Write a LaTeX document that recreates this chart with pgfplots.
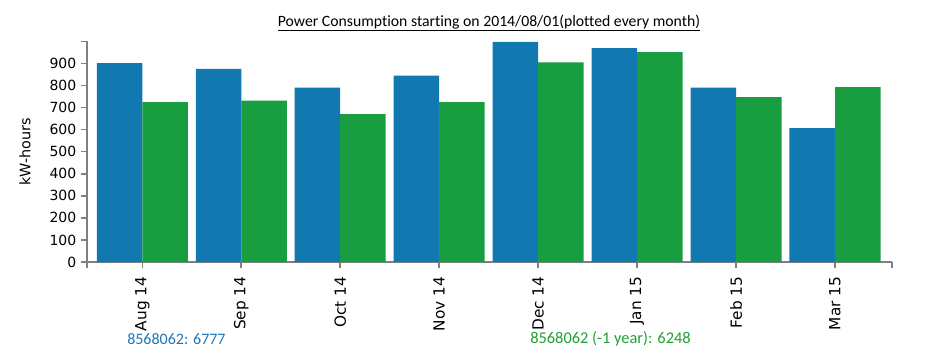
\documentclass[border=0pt]{standalone}
\usepackage{pgfplots}
\pgfplotsset{compat=1.18}
\usepackage{fontspec}
\setmainfont{DejaVu Sans}
\newfontfamily\titlefont[Ligatures={NoCommon}]{Carlito}
\definecolor{cblue}{RGB}{18,120,176}
\definecolor{cgreen}{RGB}{24,158,64}
\definecolor{lblue}{RGB}{31,119,180}
\definecolor{lgreen}{RGB}{34,160,52}
\definecolor{axgray}{RGB}{128,128,128}
\begin{document}
\begin{tikzpicture}[x=1pt,y=1pt]
\useasboundingbox (0,0) rectangle (710.25,270.75);
\begin{axis}[
  at={(65.25pt,74.25pt)}, anchor=south west,
  scale only axis, width=603.75pt, height=165.45pt,
  xmin=-0.559, xmax=7.576, ymin=0, ymax=1000,
  axis lines*=left,
  axis line style={axgray, line width=1.5pt, -},
  ytick={0,100,...,900},
  xtick={0,...,7},
  xticklabels={Aug 14,Sep 14,Oct 14,Nov 14,Dec 14,Jan 15,Feb 15,Mar 15},
  extra x ticks={-0.559,7.576}, extra x tick labels={},
  extra y ticks={1000}, extra y tick labels={},
  x tick label style={rotate=90, anchor=east, font=\fontsize{11.5}{12}\selectfont},
  xticklabel shift=3pt,
  y tick label style={font=\fontsize{10.5}{12}\selectfont},
  /pgf/number format/assume math mode=true,
  tick style={axgray, line width=1.2pt},
  tick align=outside, major tick length=4.5pt,
  ybar=0pt, bar width=0.46,
  clip=false,
]
\addplot[fill=cblue, draw=none, bar shift=-0.23] coordinates {
  (0,901) (1,875) (2,791) (3,845) (4,998) (5,969) (6,791) (7,607)};
\addplot[fill=cgreen, draw=none, bar shift=0.23] coordinates {
  (0,725) (1,732) (2,670) (3,725) (4,905) (5,951) (6,747) (7,793)};
\end{axis}
\node at (366.75,253.5) {\titlefont\fontsize{11.8}{13}\selectfont\underline{Power Consumption starting on 2014/08/01(plotted every month)}};
\node[rotate=90] at (18.75,156.75) {\fontsize{10.8}{12}\selectfont kW-hours};
\node[anchor=west, inner sep=0pt, text=lblue] at (95.25,16.5) {\titlefont\fontsize{12}{14}\selectfont 8568062: 6777};
\node[anchor=west, inner sep=0pt, text=lgreen] at (397.5,16.5) {\titlefont\fontsize{12.3}{14}\selectfont 8568062 (-1 year): 6248};
\end{tikzpicture}
\end{document}
